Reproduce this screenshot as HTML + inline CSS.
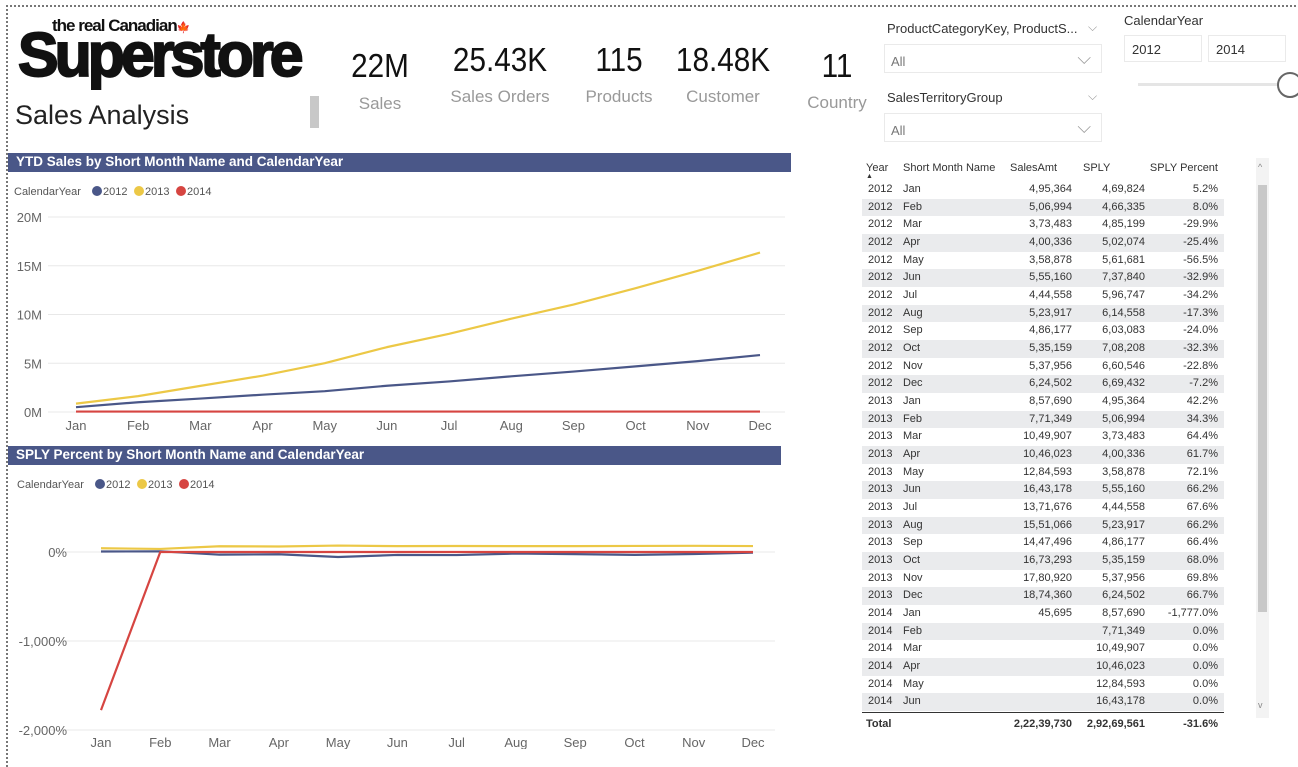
<!DOCTYPE html>
<html><head><meta charset="utf-8">
<style>
body{margin:0;width:1298px;height:749px;overflow:hidden;background:#fff;font-family:"Liberation Sans",sans-serif;position:relative}
.abs{position:absolute}
.kv{position:absolute;font-size:33px;color:#111;text-align:center;width:140px;transform:scaleX(.9)}
.kl{position:absolute;font-size:17px;color:#999;text-align:center;width:140px}
.bar{position:absolute;background:#4a5788;color:#fff;font-weight:bold;font-size:13.5px;line-height:18px;padding-left:8px;box-sizing:border-box}
.box{position:absolute;border:1px solid #eaeaea;font-size:13px;color:#777;box-sizing:border-box}
.row{position:absolute;left:862px;width:362px;height:17.67px;font-size:11px;color:#333;line-height:17.67px}
.row span{position:absolute;white-space:nowrap}
.c1{left:6px}.c2{left:41px}.c3{right:152px}.c4{right:79px}.c5{right:6px}
</style></head><body>
<div class="abs" style="left:6px;top:5px;width:1300px;height:760px;border-left:2px dotted #777;border-top:2px dotted #777"></div>

<div class="abs" style="left:18px;top:14px;width:296px;height:70px">
 <div class="abs" style="left:34px;top:2px;font-size:17px;font-weight:bold;letter-spacing:-1px;color:#111">the real Canadian<span style="font-size:11px">🍁</span></div>
 <div class="abs" style="left:0;top:6px;font-size:62px;font-weight:900;letter-spacing:-4px;color:#111;transform:scale(0.98,1.0);transform-origin:left top;-webkit-text-stroke:2px #111">Superstore</div>
</div>
<div class="abs" style="left:15px;top:100px;font-size:27px;color:#222">Sales Analysis</div>
<div class="abs" style="left:310px;top:96px;width:9px;height:32px;background:#c8c8c8"></div>

<div class="kv" style="left:310px;top:47px">22M</div>
<div class="kl" style="left:310px;top:94px">Sales</div>
<div class="kv" style="left:430px;top:41px">25.43K</div>
<div class="kl" style="left:430px;top:87px">Sales Orders</div>
<div class="kv" style="left:549px;top:41px">115</div>
<div class="kl" style="left:549px;top:87px">Products</div>
<div class="kv" style="left:653px;top:41px">18.48K</div>
<div class="kl" style="left:653px;top:87px">Customer</div>
<div class="kv" style="left:767px;top:47px">11</div>
<div class="kl" style="left:767px;top:93px">Country</div>

<div class="abs" style="left:887px;top:21px;font-size:13px;color:#333">ProductCategoryKey, ProductS...</div>
<div class="abs" style="left:1088px;top:20px;font-size:12px;color:#999">⌵</div>
<div class="box" style="left:884px;top:44px;width:218px;height:29px;padding:9px 0 0 6px">All<span style="position:absolute;right:10px;top:3px;font-size:18px;color:#999">⌵</span></div>
<div class="abs" style="left:887px;top:90px;font-size:13px;color:#333">SalesTerritoryGroup</div>
<div class="abs" style="left:1088px;top:89px;font-size:12px;color:#999">⌵</div>
<div class="box" style="left:884px;top:113px;width:218px;height:29px;padding:9px 0 0 6px">All<span style="position:absolute;right:10px;top:3px;font-size:18px;color:#999">⌵</span></div>
<div class="abs" style="left:1124px;top:13px;font-size:13px;color:#333">CalendarYear</div>
<div class="box" style="left:1124px;top:35px;width:78px;height:27px;padding:6px 0 0 7px;color:#333">2012</div>
<div class="box" style="left:1208px;top:35px;width:78px;height:27px;padding:6px 0 0 7px;color:#333">2014</div>
<div class="abs" style="left:1138px;top:83px;width:150px;height:3px;background:#e5e5e5"></div>
<div class="abs" style="left:1277px;top:72px;width:22px;height:22px;border:2px solid #666;border-radius:50%;background:#fff"></div>

<div class="bar" style="left:8px;top:153px;width:783px;height:19px">YTD Sales by Short Month Name and CalendarYear</div>
<div class="bar" style="left:8px;top:446px;width:773px;height:19px">SPLY Percent by Short Month Name and CalendarYear</div>

<svg class="abs" style="left:0;top:0" width="860" height="749" id="charts"></svg>

<div class="row" style="top:160px;height:21px;border-bottom:1px solid #333">
<span class="c1" style="left:4px">Year</span><span style="left:4px;top:8px;font-size:7px">▲</span><span class="c2">Short Month Name</span><span style="left:148px">SalesAmt</span><span style="left:221px">SPLY</span><span class="c5">SPLY Percent</span></div>
<div id="tb"></div>
<div class="row" style="top:712px;height:22px;line-height:22px;border-top:1px solid #333;font-weight:bold"><span style="left:4px">Total</span><span class="c3">2,22,39,730</span><span class="c4">2,92,69,561</span><span class="c5">-31.6%</span></div>
<div class="abs" style="left:1256px;top:158px;width:13px;height:560px;background:#f3f3f3"><div style="position:absolute;left:2px;top:27px;width:9px;height:427px;background:#c8c8c8"></div><div style="position:absolute;left:2px;top:4px;font-size:9px;color:#888">^</div><div style="position:absolute;left:2px;top:542px;font-size:9px;color:#888">v</div></div>

<script>
const months=["Jan","Feb","Mar","Apr","May","Jun","Jul","Aug","Sep","Oct","Nov","Dec"];
const years=["2012","2013","2014"];
const colors=["#4a5788","#ecc846","#d64541"];
const ytd2012=[0.495,1.002,1.376,1.776,2.135,2.690,3.135,3.659,4.145,4.680,5.218,5.842];
const ytd2013=[0.858,1.629,2.679,3.725,5.010,6.653,8.024,9.575,11.022,12.695,14.476,16.350];
const ytd2014=[0.046,0.046,0.046,0.046,0.046,0.046,0.046,0.046,0.046,0.046,0.046,0.046];
const ytdTicks=[0,5,10,15,20];
const sply2012=[5.2,8.0,-29.9,-25.4,-56.5,-32.9,-34.2,-17.3,-24.0,-32.3,-22.8,-7.2];
const sply2013=[42.2,34.3,64.4,61.7,72.1,66.2,67.6,66.2,66.4,68.0,69.8,66.7];
const sply2014=[-1777,0,0,0,0,0,0,0,0,0,0,0];
const splyTicks=[0,-1000,-2000];
const tblYear=["2012","2012","2012","2012","2012","2012","2012","2012","2012","2012","2012","2012","2013","2013","2013","2013","2013","2013","2013","2013","2013","2013","2013","2013","2014","2014","2014","2014","2014","2014"];
const tblMonth=["Jan","Feb","Mar","Apr","May","Jun","Jul","Aug","Sep","Oct","Nov","Dec","Jan","Feb","Mar","Apr","May","Jun","Jul","Aug","Sep","Oct","Nov","Dec","Jan","Feb","Mar","Apr","May","Jun"];
const tblSales=["4,95,364","5,06,994","3,73,483","4,00,336","3,58,878","5,55,160","4,44,558","5,23,917","4,86,177","5,35,159","5,37,956","6,24,502","8,57,690","7,71,349","10,49,907","10,46,023","12,84,593","16,43,178","13,71,676","15,51,066","14,47,496","16,73,293","17,80,920","18,74,360","45,695","","","","",""];
const tblSply=["4,69,824","4,66,335","4,85,199","5,02,074","5,61,681","7,37,840","5,96,747","6,14,558","6,03,083","7,08,208","6,60,546","6,69,432","4,95,364","5,06,994","3,73,483","4,00,336","3,58,878","5,55,160","4,44,558","5,23,917","4,86,177","5,35,159","5,37,956","6,24,502","8,57,690","7,71,349","10,49,907","10,46,023","12,84,593","16,43,178"];
const tblPct=["5.2%","8.0%","-29.9%","-25.4%","-56.5%","-32.9%","-34.2%","-17.3%","-24.0%","-32.3%","-22.8%","-7.2%","42.2%","34.3%","64.4%","61.7%","72.1%","66.2%","67.6%","66.2%","66.4%","68.0%","69.8%","66.7%","-1,777.0%","0.0%","0.0%","0.0%","0.0%","0.0%"];

const NS="http://www.w3.org/2000/svg";
const svg=document.getElementById('charts');
function mk(t,a,p){const e=document.createElementNS(NS,t);for(const k in a)e.setAttribute(k,a[k]);(p||svg).appendChild(e);return e;}

function chart(cfg){
  const x=i=>cfg.x0+i*(cfg.x1-cfg.x0)/(months.length-1);
  const y=v=>cfg.yz+(v-cfg.vz)*(cfg.y1-cfg.yz)/(cfg.v1-cfg.vz);
  let lg=mk('text',{x:cfg.lx,y:cfg.ly,'font-size':11,fill:'#555'});lg.textContent='CalendarYear';
  
  
  let lx=cfg.lx+78;
  years.forEach((yr,k)=>{
    const c=mk('circle',{cx:lx+5,cy:cfg.ly-4,r:5,fill:colors[k]});
    
    
    const t=mk('text',{x:lx+11,y:cfg.ly,'font-size':11,fill:'#555'});t.textContent=yr;
    lx+=42;
  });
  cfg.ticks.forEach(v=>{
    const l=mk('line',{x1:cfg.gx0,x2:cfg.gx1,y1:y(v),y2:y(v),stroke:'#e8e8e8','stroke-width':1});
    
    
    const t=mk('text',{x:cfg.tx,y:y(v)+5,'font-size':13,fill:'#666','text-anchor':'end'});
    t.textContent=cfg.fmt(v);
    
    
  });
  months.forEach((m,i)=>{
    const t=mk('text',{x:x(i),y:cfg.mx,'font-size':13,fill:'#666','text-anchor':'middle'});t.textContent=m;
    
    
  });
  cfg.series.forEach((s,k)=>{
    const p=mk('polyline',{points:s.map((v,i)=>x(i)+','+y(v)).join(' '),fill:'none',stroke:colors[k],'stroke-width':2.2,'stroke-linejoin':'round'});
    
    
  });
}
chart({id:'ytd',x0:76,x1:760,yz:412,vz:0,y1:217,v1:20,gx0:48,gx1:785,tx:42,mx:430,lx:14,ly:195,ticks:ytdTicks,fmt:v=>v+'M',series:[ytd2012,ytd2013,ytd2014]});
chart({id:'sply',x0:101,x1:753,yz:552,vz:0,y1:730,v1:-2000,gx0:50,gx1:775,tx:67,mx:747,lx:17,ly:488,ticks:splyTicks,fmt:v=>v.toLocaleString('en-US')+'%',series:[sply2012,sply2013,sply2014]});

const tb=document.getElementById('tb');
tblYear.forEach((yr,i)=>{
  const r=document.createElement('div');
  r.className='row';
  
  
  r.style.top=(181+i*17.67)+'px';
  r.style.background=i%2?'#eaebed':'#fff';
  r.innerHTML='<span class="c1">'+yr+'</span><span class="c2">'+tblMonth[i]+'</span><span class="c3">'+tblSales[i]+'</span><span class="c4">'+tblSply[i]+'</span><span class="c5">'+tblPct[i]+'</span>';
  tb.appendChild(r);
});
</script>
</body></html>
